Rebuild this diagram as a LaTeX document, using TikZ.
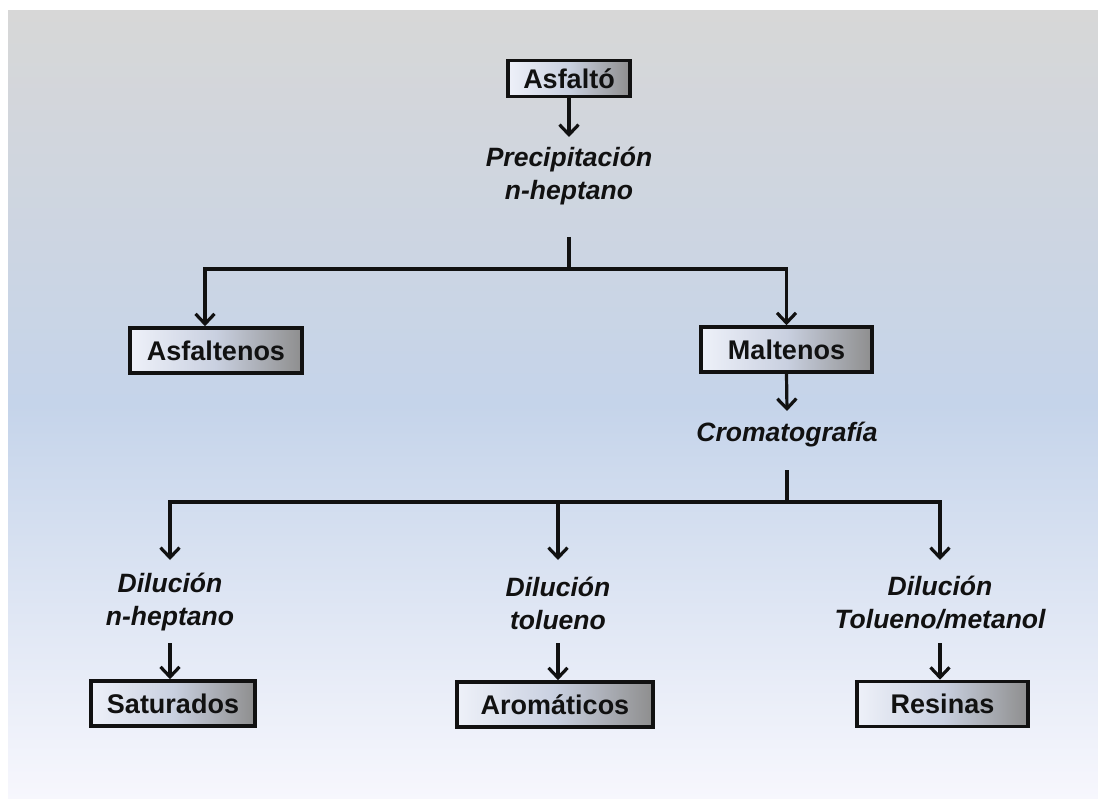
\documentclass[tikz,border=0pt]{standalone}
\usepackage{fontspec}
\setmainfont{Liberation Sans}
\usetikzlibrary{arrows.meta}
\definecolor{bgtop}{HTML}{D7D7D7}
\definecolor{bgmid}{HTML}{C5D4EA}
\definecolor{bgbot}{HTML}{F7F7FD}
\definecolor{boxl}{HTML}{EEF1F9}
\definecolor{boxm}{HTML}{C9D0E0}
\definecolor{boxr}{HTML}{8E8E8E}
\definecolor{ink}{HTML}{111111}
\begin{document}
\begin{tikzpicture}[x=1pt,y=-1pt,
  stagebox/.style={draw=ink, line width=3.6pt, left color=boxl, right color=boxr, middle color=boxm,
    font=\bfseries\fontsize{27}{30}\selectfont, text=ink, inner sep=0pt, minimum height=45pt},
  lbl/.style={font=\bfseries\itshape\fontsize{26.5}{33}\selectfont, text=ink, align=center, inner sep=0pt},
  arr/.style={draw=ink, line width=3.2pt, -{Straight Barb[length=10pt,width=19pt]}},
  ln/.style={draw=ink, line width=3.2pt}]
\useasboundingbox (0,0) rectangle (1098,799);
\shade[top color=bgtop, bottom color=bgbot, middle color=bgmid] (8,11) rectangle (1098,799);

\node[stagebox, minimum width=122pt, minimum height=36pt] (asf) at (569,78.5) {Asfaltó};
\node[lbl] (prec) at (569,176) {Precipitación\\n-heptano};
\node[stagebox, minimum width=172pt] (asfn) at (216,350.5) {Asfaltenos};
\node[stagebox, minimum width=171pt] (mal) at (786.5,349.5) {Maltenos};
\node[lbl] (crom) at (787,435) {Cromatografía};
\node[lbl] (d1) at (170,602) {Dilución\\n-heptano};
\node[lbl] (d2) at (558,603) {Dilución\\tolueno};
\node[lbl] (d3) at (940,603) {Dilución\\Tolueno/metanol};
\node[stagebox, minimum width=164pt] (sat) at (173,703.5) {Saturados};
\node[stagebox, minimum width=196pt] (aro) at (555,704.5) {Aromáticos};
\node[stagebox, minimum width=171pt] (res) at (942.5,704) {Resinas};

\coordinate (a1) at (569,137);
\coordinate (s1) at (569,237);
\coordinate (j1) at (569,269);
\coordinate (a2) at (787,411);
\coordinate (s2) at (787,470);
\coordinate (j2) at (787,502);
\coordinate (t1) at (170,560);
\coordinate (t2) at (558,560);
\coordinate (t3) at (940,560);
\coordinate (b1) at (170,643);
\coordinate (b2) at (558,643);
\coordinate (b3) at (940,643);

\draw[arr] (asf.south) -- (a1);
\draw[ln] (s1) -- (j1);
\draw[arr] (j1) -| ([xshift=-11pt]asfn.north);
\draw[arr] (j1) -| (mal.north);
\draw[arr] (mal.south) -- (a2);
\draw[ln] (s2) -- (j2);
\draw[arr] (j2) -| (t1);
\draw[arr] (j2) -| (t3);
\draw[arr] (j2 -| t2) -- (t2);
\draw[arr] (b1) -- (sat.north -| b1);
\draw[arr] (b2) -- (aro.north -| b2);
\draw[arr] (b3) -- (res.north -| b3);
\end{tikzpicture}
\end{document}
